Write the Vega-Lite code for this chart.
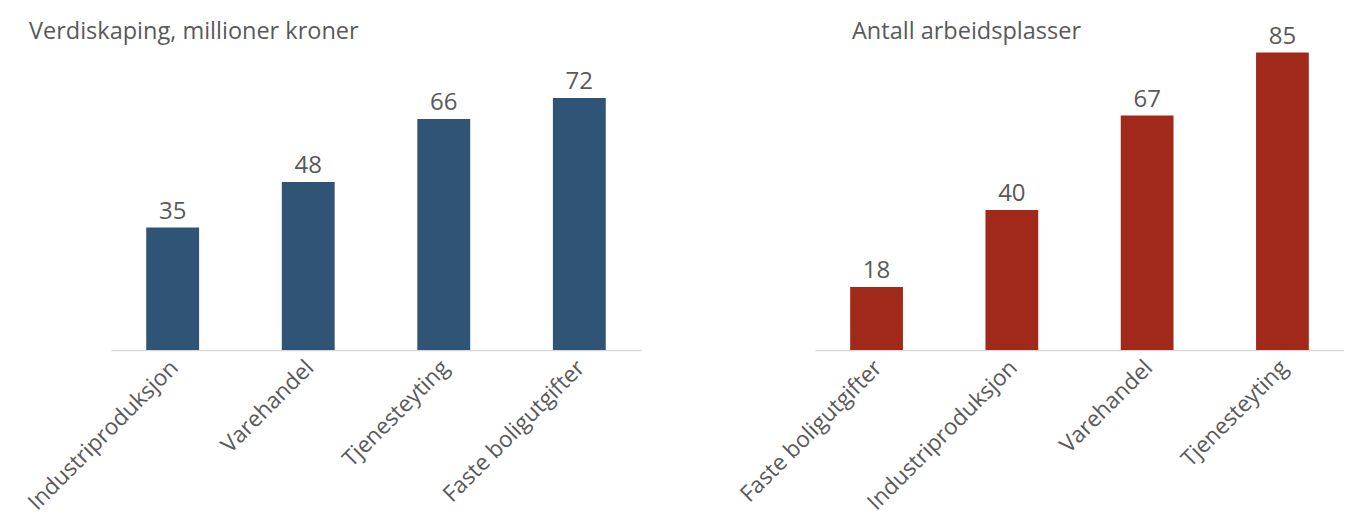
{
  "$schema": "https://vega.github.io/schema/vega-lite/v6.json",
  "padding": {"left": 24, "top": 0, "right": 0, "bottom": 0},
  "background": "white",
  "spacing": 174,
  "bounds": "flush",
  "config": {
    "font": "Open Sans",
    "view": {"stroke": null},
    "title": {"fontSize": 23.5, "fontWeight": "normal", "color": "#595959", "anchor": "start", "frame": "group", "baseline": "middle", "offset": 0},
    "axis": {"labelColor": "#595959", "labelFontSize": 22.5, "labelLimit": 0, "domainColor": "#d9d9d9", "domainWidth": 1.5, "ticks": false, "grid": false, "title": null}
  },
  "datasets": {
    "verdi": [
      {"kategori": "Industriproduksjon", "verdi": 35},
      {"kategori": "Varehandel", "verdi": 48},
      {"kategori": "Tjenesteyting", "verdi": 66},
      {"kategori": "Faste boligutgifter", "verdi": 72}
    ],
    "arbeid": [
      {"kategori": "Faste boligutgifter", "verdi": 18},
      {"kategori": "Industriproduksjon", "verdi": 40},
      {"kategori": "Varehandel", "verdi": 67},
      {"kategori": "Tjenesteyting", "verdi": 85}
    ]
  },
  "hconcat": [
    {
      "width": 530,
      "height": 350,
      "data": {"name": "verdi"},
      "title": {"text": "Verdiskaping, millioner kroner", "dx": -82, "dy": 47},
      "encoding": {
        "x": {"field": "kategori", "type": "nominal", "sort": null,
              "scale": {"paddingInner": 0.61, "paddingOuter": 0.26},
              "axis": {"labelAngle": -45, "labelPadding": 6, "labelOffset": -6}},
        "y": {"field": "verdi", "type": "quantitative", "scale": {"domain": [0, 100], "nice": false}, "axis": null}
      },
      "layer": [
        {"mark": {"type": "bar", "color": "#2F5475"}},
        {"mark": {"type": "text", "baseline": "alphabetic", "dy": -9, "fontSize": 24, "color": "#595959"},
         "encoding": {"text": {"field": "verdi", "type": "quantitative"}}}
      ]
    },
    {
      "width": 529,
      "height": 350,
      "data": {"name": "arbeid"},
      "title": {"text": "Antall arbeidsplasser", "dx": 37, "dy": 47},
      "encoding": {
        "x": {"field": "kategori", "type": "nominal", "sort": null,
              "scale": {"paddingInner": 0.61, "paddingOuter": 0.26},
              "axis": {"labelAngle": -45, "labelPadding": 6, "labelOffset": -6}},
        "y": {"field": "verdi", "type": "quantitative", "scale": {"domain": [0, 100], "nice": false}, "axis": null}
      },
      "layer": [
        {"mark": {"type": "bar", "color": "#A0291A"}},
        {"mark": {"type": "text", "baseline": "alphabetic", "dy": -9, "fontSize": 24, "color": "#595959"},
         "encoding": {"text": {"field": "verdi", "type": "quantitative"}}}
      ]
    }
  ]
}
